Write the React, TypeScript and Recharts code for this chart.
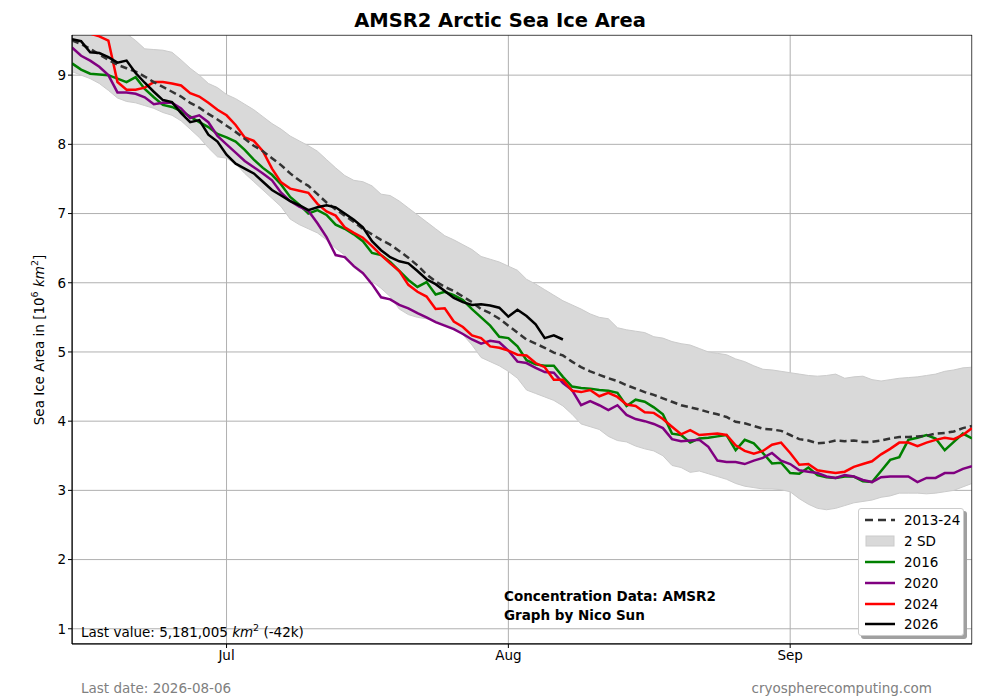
import React from 'react';
import {
	ComposedChart,
	Line,
	Area,
	XAxis,
	YAxis,
	CartesianGrid,
	ReferenceArea,
} from 'recharts';

// Daily values from Jun 14 (index 0) to Sep 21 (index 99), in million km²
const MEAN_2013_24 = [
	9.5, 9.45, 9.38, 9.3, 9.22, 9.15, 9.1, 9.05, 8.98, 8.9,
	8.83, 8.76, 8.69, 8.6, 8.53, 8.44, 8.36, 8.27, 8.18, 8.08,
	7.98, 7.9, 7.8, 7.7, 7.58, 7.48, 7.4, 7.28, 7.16, 7.06,
	6.97, 6.88, 6.78, 6.7, 6.62, 6.55, 6.46, 6.36, 6.25, 6.12,
	6.02, 5.94, 5.88, 5.8, 5.72, 5.62, 5.56, 5.48, 5.38, 5.28,
	5.18, 5.12, 5.06, 4.99, 4.95, 4.86, 4.78, 4.72, 4.67, 4.62,
	4.58, 4.52, 4.47, 4.42, 4.38, 4.33, 4.28, 4.23, 4.2, 4.17,
	4.13, 4.1, 4.06, 3.99, 3.97, 3.93, 3.89, 3.88, 3.86, 3.8,
	3.74, 3.72, 3.68, 3.69, 3.72, 3.71, 3.72, 3.7, 3.7, 3.72,
	3.75, 3.77, 3.77, 3.78, 3.79, 3.82, 3.83, 3.85, 3.9, 3.93,
];

const SD_UPPER = [
	9.85, 9.82, 9.78, 9.72, 9.68, 9.64, 9.6, 9.5, 9.38, 9.37,
	9.36, 9.33, 9.22, 9.1, 9.0, 8.88, 8.82, 8.72, 8.66, 8.58,
	8.5, 8.4, 8.3, 8.22, 8.12, 8.05, 7.98, 7.9, 7.78, 7.66,
	7.55, 7.48, 7.46, 7.4, 7.28, 7.26, 7.18, 7.08, 6.98, 6.88,
	6.78, 6.68, 6.62, 6.55, 6.48, 6.38, 6.34, 6.3, 6.24, 6.18,
	6.05, 5.98, 5.9, 5.82, 5.74, 5.68, 5.62, 5.55, 5.5, 5.48,
	5.35, 5.32, 5.3, 5.28, 5.22, 5.2, 5.15, 5.12, 5.1, 5.05,
	5.0, 4.98, 4.96, 4.9, 4.86, 4.8, 4.75, 4.74, 4.72, 4.7,
	4.68, 4.66, 4.65, 4.66, 4.68, 4.62, 4.64, 4.65, 4.6, 4.58,
	4.6, 4.62, 4.63, 4.64, 4.66, 4.68, 4.72, 4.74, 4.77, 4.78,
];

const SD_LOWER = [
	9.05, 9.0, 8.95, 8.88, 8.78, 8.67, 8.62, 8.6, 8.56, 8.52,
	8.46, 8.42, 8.34, 8.22, 8.1, 7.95, 7.82, 7.8, 7.72, 7.58,
	7.46, 7.34, 7.22, 7.1, 6.92, 6.84, 6.78, 6.72, 6.62, 6.5,
	6.4, 6.22, 6.12, 6.02, 5.92, 5.8, 5.62, 5.54, 5.5, 5.48,
	5.45, 5.4, 5.35, 5.25, 5.1, 4.92, 4.86, 4.8, 4.72, 4.62,
	4.45, 4.4, 4.35, 4.3, 4.22, 4.1, 3.96, 3.92, 3.88, 3.78,
	3.72, 3.7, 3.64, 3.6, 3.57, 3.5, 3.36, 3.33, 3.26, 3.28,
	3.24, 3.2, 3.16, 3.1, 3.06, 3.04, 3.02, 3.02, 3.01, 2.98,
	2.88, 2.8, 2.74, 2.72, 2.74, 2.78, 2.82, 2.84, 2.86, 2.9,
	2.92, 2.96, 2.96, 2.96, 2.95, 2.96, 2.98, 3.0, 3.05, 3.1,
];

const Y2016 = [
	9.17, 9.08, 9.02, 9.01, 9.0, 8.95, 8.9, 8.97, 8.8, 8.68,
	8.57, 8.54, 8.48, 8.4, 8.32, 8.25, 8.15, 8.1, 8.04, 7.92,
	7.78, 7.66, 7.56, 7.42, 7.24, 7.13, 7.0, 7.05, 6.98, 6.84,
	6.78, 6.7, 6.6, 6.43, 6.4, 6.3, 6.17, 6.04, 5.94, 6.01,
	5.83, 5.87, 5.82, 5.75, 5.62, 5.5, 5.38, 5.22, 5.2, 5.08,
	4.88, 4.82, 4.8, 4.8, 4.64, 4.5, 4.48, 4.47, 4.45, 4.44,
	4.41, 4.22, 4.31, 4.28, 4.2, 4.1, 3.82, 3.8, 3.69, 3.75,
	3.76, 3.78, 3.8, 3.58, 3.73, 3.68, 3.54, 3.39, 3.4, 3.25,
	3.24, 3.33, 3.22, 3.19, 3.18, 3.2, 3.2, 3.13, 3.12, 3.28,
	3.44, 3.48, 3.73, 3.76, 3.8, 3.75, 3.58, 3.7, 3.82, 3.75,
];

const Y2020 = [
	9.4, 9.28, 9.21, 9.12, 9.0, 8.75, 8.75, 8.73, 8.68, 8.58,
	8.6, 8.6, 8.52, 8.38, 8.42, 8.32, 8.12, 8.0, 7.88, 7.76,
	7.67, 7.58, 7.48, 7.3, 7.18, 7.1, 7.04, 6.86, 6.66, 6.4,
	6.37, 6.24, 6.14, 5.98, 5.79, 5.76, 5.68, 5.63, 5.56, 5.5,
	5.43, 5.38, 5.33, 5.26, 5.18, 5.12, 5.16, 5.14, 5.02, 4.86,
	4.84, 4.77, 4.71, 4.7, 4.55, 4.45, 4.23, 4.29, 4.23, 4.16,
	4.23, 4.09, 4.03, 4.0, 3.96, 3.9, 3.74, 3.71, 3.72, 3.73,
	3.63, 3.43, 3.41, 3.41, 3.38, 3.43, 3.47, 3.54, 3.43, 3.38,
	3.29, 3.27, 3.25, 3.2, 3.18, 3.22, 3.2, 3.15, 3.12, 3.19,
	3.2, 3.2, 3.2, 3.12, 3.18, 3.18, 3.25, 3.25, 3.31, 3.35,
];

const Y2024 = [
	9.7, 9.65, 9.6, 9.56, 9.5, 8.9, 8.79, 8.79, 8.82, 8.9,
	8.9, 8.88, 8.85, 8.74, 8.69, 8.6, 8.5, 8.42, 8.28, 8.1,
	8.05, 7.9, 7.65, 7.45, 7.36, 7.33, 7.3, 7.14, 7.03, 6.97,
	6.8, 6.72, 6.65, 6.53, 6.4, 6.28, 6.17, 5.97, 5.87, 5.8,
	5.62, 5.63, 5.44, 5.36, 5.24, 5.2, 5.08, 5.06, 5.02, 4.96,
	4.95, 4.84, 4.78, 4.6, 4.6, 4.44, 4.42, 4.45, 4.36, 4.41,
	4.35, 4.24, 4.22, 4.13, 4.12, 4.03, 3.92, 3.81, 3.87, 3.8,
	3.81, 3.82, 3.8, 3.65, 3.57, 3.53, 3.57, 3.66, 3.69, 3.54,
	3.37, 3.38, 3.29, 3.27, 3.25, 3.27, 3.34, 3.38, 3.42, 3.52,
	3.6, 3.69, 3.69, 3.64, 3.69, 3.73, 3.76, 3.74, 3.8, 3.9,
];

// 2026 runs through Aug 6
const Y2026 = [
	9.52, 9.49, 9.33, 9.32, 9.26, 9.18, 9.21, 9.03, 8.89, 8.76,
	8.64, 8.61, 8.45, 8.32, 8.35, 8.14, 8.04, 7.85, 7.72, 7.65,
	7.58, 7.46, 7.34, 7.26, 7.18, 7.12, 7.05, 7.09, 7.12, 7.09,
	7.0, 6.91, 6.8, 6.6, 6.47, 6.37, 6.31, 6.28, 6.17, 6.05,
	5.98, 5.88, 5.78, 5.72, 5.68, 5.69, 5.67, 5.64, 5.51, 5.61,
	5.52, 5.4, 5.2, 5.24, 5.18,
];

const MONTH_TICKS = [17, 48, 79];
const MONTH_LABELS = ['Jul', 'Aug', 'Sep'];
const Y_TICKS = [1, 2, 3, 4, 5, 6, 7, 8, 9];

const data = MEAN_2013_24.map((mean, i) => ({
	day: i,
	mean,
	sd: [SD_LOWER[i], SD_UPPER[i]],
	y2016: Y2016[i],
	y2020: Y2020[i],
	y2024: Y2024[i],
	y2026: i < Y2026.length ? Y2026[i] : null,
}));

const FONT = '"DejaVu Sans", sans-serif';

const COLORS = {
	mean: '#333333',
	band: '#d9d9d9',
	bandEdge: '#cbcbcb',
	y2016: '#008000',
	y2020: '#800080',
	y2024: '#ff0000',
	y2026: '#000000',
	grid: '#b0b0b0',
	footer: '#808080',
};

const LEGEND = [
	{ label: '2013-24', color: COLORS.mean, dashed: true },
	{ label: '2 SD', color: COLORS.band, patch: true },
	{ label: '2016', color: COLORS.y2016 },
	{ label: '2020', color: COLORS.y2020 },
	{ label: '2024', color: COLORS.y2024 },
	{ label: '2026', color: COLORS.y2026 },
];

const tickStyle = { fill: '#000', fontSize: 13.5, fontFamily: FONT };

export default function App() {
	return (
		<div style={{ position: 'relative', width: 1000, height: 700, background: '#fff', fontFamily: FONT }}>
			<style>{'body{margin:0}'}</style>

			<div
				style={{
					position: 'absolute',
					top: 9,
					left: 0,
					width: 1000,
					textAlign: 'center',
					fontSize: 19.5,
					fontWeight: 'bold',
				}}
			>
				AMSR2 Arctic Sea Ice Area
			</div>

			<ComposedChart
				width={1000}
				height={700}
				data={data}
				margin={{ top: 35, right: 28, bottom: 26, left: 32 }}
			>
				<CartesianGrid stroke={COLORS.grid} strokeWidth={1} />
				<XAxis
					dataKey="day"
					type="number"
					domain={[0, 99]}
					ticks={MONTH_TICKS}
					tickFormatter={(v) => MONTH_LABELS[MONTH_TICKS.indexOf(v)]}
					tick={tickStyle}
					tickSize={4}
					tickLine={{ stroke: '#000' }}
					axisLine={{ stroke: '#000' }}
					height={30}
					allowDataOverflow
				/>
				<YAxis
					type="number"
					domain={[0.78, 9.58]}
					ticks={Y_TICKS}
					tick={tickStyle}
					tickSize={4}
					tickLine={{ stroke: '#000' }}
					axisLine={{ stroke: '#000' }}
					width={40}
					allowDataOverflow
				/>

				<Area
					dataKey="sd"
					type="linear"
					stroke={COLORS.bandEdge}
					strokeWidth={1}
					fill={COLORS.band}
					fillOpacity={1}
					isAnimationActive={false}
				/>
				<Line dataKey="y2016" type="linear" stroke={COLORS.y2016} strokeWidth={2.5} dot={false} isAnimationActive={false} />
				<Line dataKey="y2020" type="linear" stroke={COLORS.y2020} strokeWidth={2.5} dot={false} isAnimationActive={false} />
				<Line dataKey="y2024" type="linear" stroke={COLORS.y2024} strokeWidth={2.5} dot={false} isAnimationActive={false} />
				<Line
					dataKey="mean"
					type="linear"
					stroke={COLORS.mean}
					strokeWidth={2.5}
					strokeDasharray="7 4"
					dot={false}
					isAnimationActive={false}
				/>
				<Line dataKey="y2026" type="linear" stroke={COLORS.y2026} strokeWidth={2.5} dot={false} isAnimationActive={false} />

				<ReferenceArea x1={0} x2={99} y1={0.78} y2={9.58} fill="none" stroke="#000" strokeWidth={1} ifOverflow="hidden" />
			</ComposedChart>

			{/* y-axis label */}
			<div
				style={{
					position: 'absolute',
					left: 38,
					top: 340,
					transform: 'translate(-50%, -50%) rotate(-90deg)',
					whiteSpace: 'nowrap',
					fontSize: 13.5,
				}}
			>
				Sea Ice Area in [10<sup style={{ fontSize: 9.5 }}>6</sup> <i>km</i>
				<sup style={{ fontSize: 9.5 }}>2</sup>]
			</div>

			<div style={{ position: 'absolute', left: 81, top: 622, fontSize: 13.5, whiteSpace: 'nowrap' }}>
				Last value: 5,181,005 <i>km</i>
				<sup style={{ fontSize: 9.5 }}>2</sup> (-42k)
			</div>

			<div style={{ position: 'absolute', left: 504, top: 587, fontSize: 13.5, fontWeight: 'bold', lineHeight: '19px' }}>
				Concentration Data: AMSR2
				<br />
				Graph by Nico Sun
			</div>

			<div style={{ position: 'absolute', left: 81, top: 680, fontSize: 13.5, color: COLORS.footer }}>
				Last date: 2026-08-06
			</div>
			<div style={{ position: 'absolute', right: 68, top: 680, fontSize: 13.5, color: COLORS.footer }}>
				cryospherecomputing.com
			</div>

			{/* legend */}
			<div
				style={{
					position: 'absolute',
					left: 858,
					top: 508,
					width: 106,
					height: 128,
					background: '#fff',
					border: '1px solid #cccccc',
					borderRadius: 3,
					boxShadow: '3px 3px 0 #a0a0a0',
					boxSizing: 'border-box',
					padding: '1px 0 0 6px',
				}}
			>
				{LEGEND.map((item) => (
					<div key={item.label} style={{ display: 'flex', alignItems: 'center', height: 20.8, fontSize: 13.5 }}>
						<svg width={30} height={12} style={{ marginRight: 9 }}>
							{item.patch ? (
								<rect x={1} y={1} width={28} height={10} fill={item.color} stroke={COLORS.bandEdge} />
							) : (
								<line
									x1={0}
									y1={6}
									x2={30}
									y2={6}
									stroke={item.color}
									strokeWidth={2.5}
									strokeDasharray={item.dashed ? '8 5' : undefined}
								/>
							)}
						</svg>
						<span>{item.label}</span>
					</div>
				))}
			</div>
		</div>
	);
}
